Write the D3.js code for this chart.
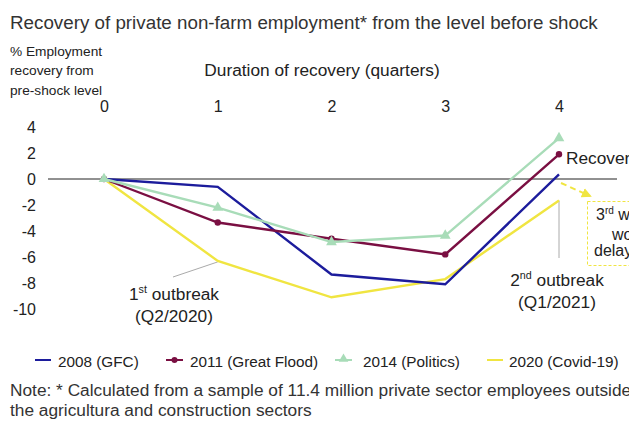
<!DOCTYPE html>
<html><head><meta charset="utf-8">
<script src="https://cdn.jsdelivr.net/npm/d3@7"></script>
<style>
html,body{margin:0;padding:0;background:#fff;overflow:hidden}
svg{display:block;font-family:"Liberation Sans",Arial,sans-serif}
</style></head>
<body>
<svg id="c" width="629" height="421"></svg>
<script>
const quarters = [0, 1, 2, 3, 4];
const yTicks = [4, 2, 0, -2, -4, -6, -8, -10];
const gfc2008 = [0, -0.6, -7.35, -8.1, 0.35];
const flood2011 = [0, -3.35, -4.6, -5.8, 1.9];
const politics2014 = [0, -2.2, -4.85, -4.35, 3.15];
const covid2020 = [0, -6.3, -9.1, -7.7, -1.65];
const seriesNames = ["2008 (GFC)", "2011 (Great Flood)", "2014 (Politics)", "2020 (Covid-19)"];
const seriesColors = ["#1c1c9c", "#7a0f42", "#a8dcb8", "#f0e541"];
const seriesMarkers = ["none", "circle", "triangle", "none"];

const svg = d3.select("#c");
const x = d3.scaleLinear().domain([0, 4]).range([104, 559]);
const y = d3.scaleLinear().domain([-10, 4]).range([309, 127]);
const txt = "#222";
const FF = "Liberation Sans, Arial, sans-serif";

// title
svg.append("text").attr("x", 10).attr("y", 29).attr("font-size", 18.8).attr("fill", "#333")
  .text("Recovery of private non-farm employment* from the level before shock");

// y axis title
["% Employment", "recovery from", "pre-shock level"].forEach((t, i) =>
  svg.append("text").attr("x", 10).attr("y", 55.5 + i * 19.5).attr("font-size", 13.7).attr("fill", txt).text(t));

svg.append("text").attr("x", 322).attr("y", 76).attr("text-anchor", "middle").attr("font-size", 17.3)
  .attr("fill", txt).text("Duration of recovery (quarters)");

// x axis (top labels)
const xAxis = svg.append("g").attr("transform", "translate(0,112)")
  .call(d3.axisTop(x).tickValues(quarters).tickSize(0).tickPadding(0).tickFormat(d => String(d)));
xAxis.select(".domain").remove();
xAxis.selectAll("text").attr("font-size", 16).attr("fill", txt).attr("font-family", FF).attr("dy", 0);

// y axis
const yAxis = svg.append("g").attr("transform", "translate(36,0)")
  .call(d3.axisLeft(y).tickValues(yTicks).tickSize(0).tickPadding(0).tickFormat(d => String(d)));
yAxis.select(".domain").remove();
yAxis.selectAll("text").attr("font-size", 16).attr("fill", txt).attr("font-family", FF);

// zero line
svg.append("line").attr("x1", 48).attr("x2", 617).attr("y1", y(0)).attr("y2", y(0))
  .attr("stroke", "#222").attr("stroke-width", 1);

// leader lines
svg.append("line").attr("x1", x(1)).attr("y1", y(covid2020[1]) + 1).attr("x2", 173).attr("y2", 277)
  .attr("stroke", "#aaa").attr("stroke-width", 1);
svg.append("line").attr("x1", x(4)).attr("y1", y(covid2020[4])).attr("x2", x(4)).attr("y2", 258)
  .attr("stroke", "#aaa").attr("stroke-width", 1);

// series
const allSeries = [gfc2008, flood2011, politics2014, covid2020];
const line = d3.line().x((d, i) => x(quarters[i])).y(d => y(d));
const tri = d3.symbol().type(d3.symbolTriangle).size(50);
[3, 0, 1, 2].forEach(k => {
  const vals = allSeries[k];
  svg.append("path").datum(vals).attr("d", line).attr("fill", "none")
    .attr("stroke", seriesColors[k]).attr("stroke-width", 2.4).attr("stroke-linejoin", "miter");
  if (seriesMarkers[k] === "circle") {
    svg.selectAll(null).data(vals).enter().append("circle")
      .attr("cx", (d, i) => x(quarters[i])).attr("cy", d => y(d)).attr("r", 3.2).attr("fill", seriesColors[k]);
  } else if (seriesMarkers[k] === "triangle") {
    svg.selectAll(null).data(vals).enter().append("path").attr("d", tri)
      .attr("transform", (d, i) => `translate(${x(quarters[i])},${y(d)})`).attr("fill", seriesColors[k]);
  }
});

// annotations
const ann = (xx, yy, main, sup, rest, size) => {
  const t = svg.append("text").attr("x", xx).attr("y", yy).attr("text-anchor", "middle")
    .attr("font-size", size).attr("fill", txt);
  t.append("tspan").text(main);
  t.append("tspan").attr("font-size", size * 0.62).attr("dy", -7).text(sup);
  t.append("tspan").attr("dy", 7).text(rest);
};
ann(174, 300, "1", "st", " outbreak", 17.3);
svg.append("text").attr("x", 174).attr("y", 322).attr("text-anchor", "middle").attr("font-size", 17.3)
  .attr("fill", txt).text("(Q2/2020)");
ann(557, 286, "2", "nd", " outbreak", 17.3);
svg.append("text").attr("x", 557).attr("y", 308).attr("text-anchor", "middle").attr("font-size", 17.3)
  .attr("fill", txt).text("(Q1/2021)");

svg.append("text").attr("x", 566).attr("y", 164).attr("font-size", 17.3).attr("fill", txt).text("Recovery");

// dashed arrow
const defs = svg.append("defs");
defs.append("marker").attr("id", "ah").attr("viewBox", "0 0 10 10").attr("refX", 8).attr("refY", 5)
  .attr("markerWidth", 5).attr("markerHeight", 5).attr("orient", "auto")
  .append("path").attr("d", "M0,0L10,5L0,10z").attr("fill", "#f0e541");
svg.append("line").attr("x1", 561).attr("y1", 183).attr("x2", 590).attr("y2", 196)
  .attr("stroke", "#f0e541").attr("stroke-width", 2).attr("stroke-dasharray", "6,4")
  .attr("marker-end", "url(#ah)");
svg.append("rect").attr("x", 587.5).attr("y", 201.5).attr("width", 60).attr("height", 64)
  .attr("fill", "none").attr("stroke", "#f0e541").attr("stroke-width", 1).attr("stroke-dasharray", "3,2");
const t3 = svg.append("text").attr("x", 596).attr("y", 220).attr("font-size", 16).attr("fill", txt);
t3.append("tspan").text("3");
t3.append("tspan").attr("font-size", 10).attr("dy", -6).text("rd");
t3.append("tspan").attr("dy", 6).text(" wave");
svg.append("text").attr("x", 612).attr("y", 240).attr("font-size", 16).attr("fill", txt).text("would");
svg.append("text").attr("x", 594).attr("y", 256).attr("font-size", 16).attr("fill", txt).text("delay");

// legend
const legX = [35, 166, 335, 487];
const legW = [16, 17, 17, 16];
const legTX = [58, 190, 363, 509];
seriesNames.forEach((n, k) => {
  const g = svg.append("g");
  const w = legW[k];
  g.append("line").attr("x1", legX[k]).attr("x2", legX[k] + w).attr("y1", 360).attr("y2", 360)
    .attr("stroke", seriesColors[k]).attr("stroke-width", 2);
  if (seriesMarkers[k] === "circle") g.append("circle").attr("cx", legX[k] + w / 2).attr("cy", 360).attr("r", 3).attr("fill", seriesColors[k]);
  if (seriesMarkers[k] === "triangle") g.append("path").attr("d", d3.symbol().type(d3.symbolTriangle).size(40))
    .attr("transform", `translate(${legX[k] + w / 2},359)`).attr("fill", seriesColors[k]);
  g.append("text").attr("x", legTX[k]).attr("y", 366.5).attr("font-size", 15.3).attr("fill", txt).text(n);
});

// note
svg.append("text").attr("x", 10).attr("y", 396).attr("font-size", 17.3).attr("fill", "#333")
  .text("Note: * Calculated from a sample of 11.4 million private sector employees outside");
svg.append("text").attr("x", 10).attr("y", 415.5).attr("font-size", 17.3).attr("fill", "#333")
  .text("the agricultura and construction sectors");
</script>
</body></html>
